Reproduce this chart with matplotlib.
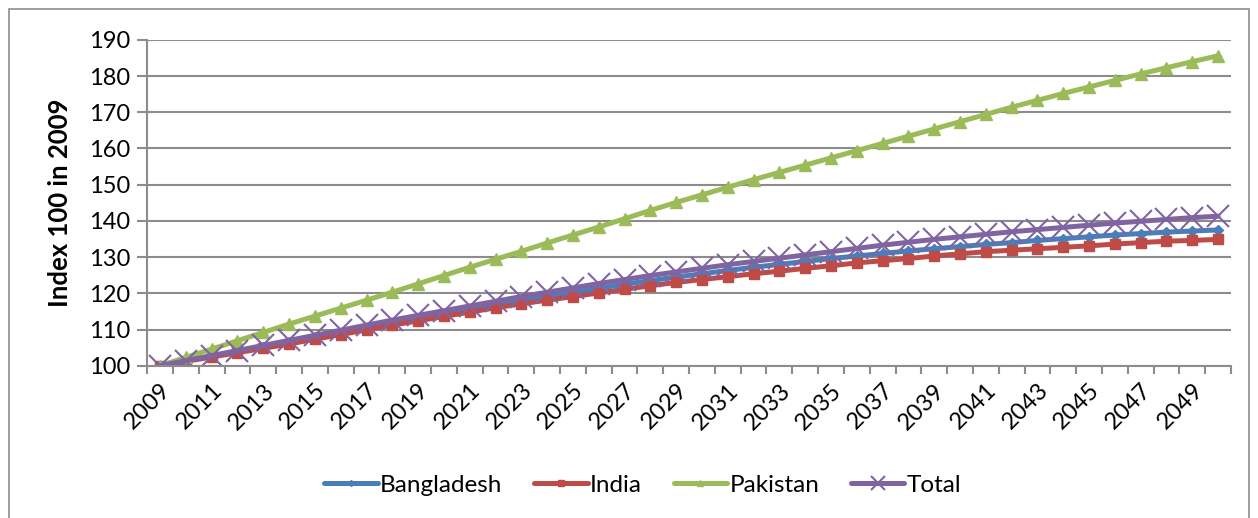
import matplotlib
matplotlib.use("Agg")
import matplotlib.pyplot as plt
from matplotlib.patches import Rectangle
import numpy as np

# ---------------------------------------------------------------------
# Data (index, 2009 = 100)
# ---------------------------------------------------------------------
YEARS = list(range(2009, 2051))

BANGLADESH = [
    100.0, 101.3, 102.6, 103.9, 105.2, 106.5, 107.8, 109.1, 110.4, 111.8,
    113.2, 114.4, 115.7, 116.9, 118.0, 119.2, 120.3, 121.4, 122.5, 123.5,
    124.5, 125.4, 126.3, 127.2, 128.0, 128.8, 129.6, 130.3, 131.0, 131.7,
    132.3, 132.9, 133.5, 134.0, 134.6, 135.1, 135.6, 136.1, 136.5, 136.9,
    137.2, 137.5,
]
INDIA = [
    100.0, 101.2, 102.4, 103.6, 104.8, 106.0, 107.3, 108.6, 109.9, 111.2,
    112.4, 113.6, 114.8, 116.0, 117.1, 118.1, 119.1, 120.1, 121.1, 122.1,
    123.0, 123.8, 124.6, 125.4, 126.1, 126.9, 127.6, 128.4, 129.0, 129.6,
    130.3, 130.9, 131.5, 131.9, 132.3, 132.7, 133.1, 133.6, 134.0, 134.4,
    134.6, 134.9,
]
PAKISTAN = [
    100.0, 102.3, 104.6, 106.9, 109.2, 111.5, 113.7, 115.9, 118.1, 120.3,
    122.6, 124.9, 127.2, 129.4, 131.6, 133.9, 136.1, 138.3, 140.6, 142.9,
    145.1, 147.2, 149.3, 151.4, 153.4, 155.4, 157.4, 159.4, 161.4, 163.4,
    165.4, 167.4, 169.4, 171.4, 173.3, 175.2, 177.0, 178.8, 180.6, 182.3,
    184.0, 185.6,
]
TOTAL = [
    100.0, 101.4, 102.8, 104.2, 105.6, 107.0, 108.4, 109.8, 111.2, 112.6,
    113.9, 115.2, 116.5, 117.8, 119.1, 120.3, 121.5, 122.7, 123.8, 124.9,
    125.9, 126.9, 127.9, 128.8, 129.7, 130.6, 131.5, 132.4, 133.3, 134.1,
    134.9, 135.6, 136.3, 137.0, 137.6, 138.2, 138.8, 139.4, 139.9, 140.4,
    140.9, 141.3,
]

SERIES = [
    ("Bangladesh", BANGLADESH, "#4A7EBB", "D", 5, 1.0),
    ("India", INDIA, "#BE4B48", "s", 7, 1.0),
    ("Pakistan", PAKISTAN, "#9BBB59", "^", 8, 1.0),
    ("Total", TOTAL, "#8064A2", "x", 16, 1.5),
]

FONT = "Lato"
GRID = "#8C8C8C"

# ---------------------------------------------------------------------
# Plot
# ---------------------------------------------------------------------
fig = plt.figure(figsize=(12.58, 5.18), dpi=100)
fig.patches.append(Rectangle((9 / 1258, -0.05), 1240 / 1258, 1.05 - 9 / 518,
                             transform=fig.transFigure, fill=False,
                             edgecolor="#8C8C8C", linewidth=1.2))
ax = fig.add_axes([0.117, 0.294, 0.8615, 0.629])

x = np.arange(len(YEARS))
for name, vals, color, marker, ms, mew in SERIES:
    ax.plot(x, vals, color=color, linewidth=3.6, marker=marker, markersize=ms,
            markeredgewidth=mew, markeredgecolor=color, markerfacecolor=color,
            label=name, solid_capstyle="round")

ax.set_xlim(-0.5, len(YEARS) - 0.5)
ax.set_ylim(100, 190)
ax.set_yticks(np.arange(100, 191, 10))
ax.yaxis.grid(True, color=GRID, linewidth=1.5)
ax.set_axisbelow(True)

ax.set_xticks(x[::2])
ax.set_xticklabels([str(y) for y in YEARS[::2]], rotation=45, ha="right",
                   va="top", rotation_mode="anchor", fontsize=17, family=FONT)
ax.set_xticks(np.arange(-0.5, len(YEARS), 1), minor=True)
ax.tick_params(axis="x", which="major", length=0, pad=10)
ax.tick_params(axis="x", which="minor", length=6, width=1.5, color=GRID)
ax.tick_params(axis="y", length=7, width=1.5, color=GRID, labelsize=17, pad=5)
for lab in ax.get_yticklabels():
    lab.set_family(FONT)

for side in ("top", "right"):
    ax.spines[side].set_visible(False)
for side in ("left", "bottom"):
    ax.spines[side].set_color(GRID)
    ax.spines[side].set_linewidth(1.5)

ax.set_ylabel("Index 100 in 2009", fontsize=18.5, fontweight="bold", family=FONT,
              labelpad=12)

leg = fig.legend(loc="center", bbox_to_anchor=(0.511, 0.063), ncol=4,
                 frameon=False, prop={"family": FONT, "size": 17.5},
                 handlelength=2.2, handletextpad=0.1, columnspacing=1.3,
                 markerscale=0.6)

fig.savefig("out.png", dpi=100)
